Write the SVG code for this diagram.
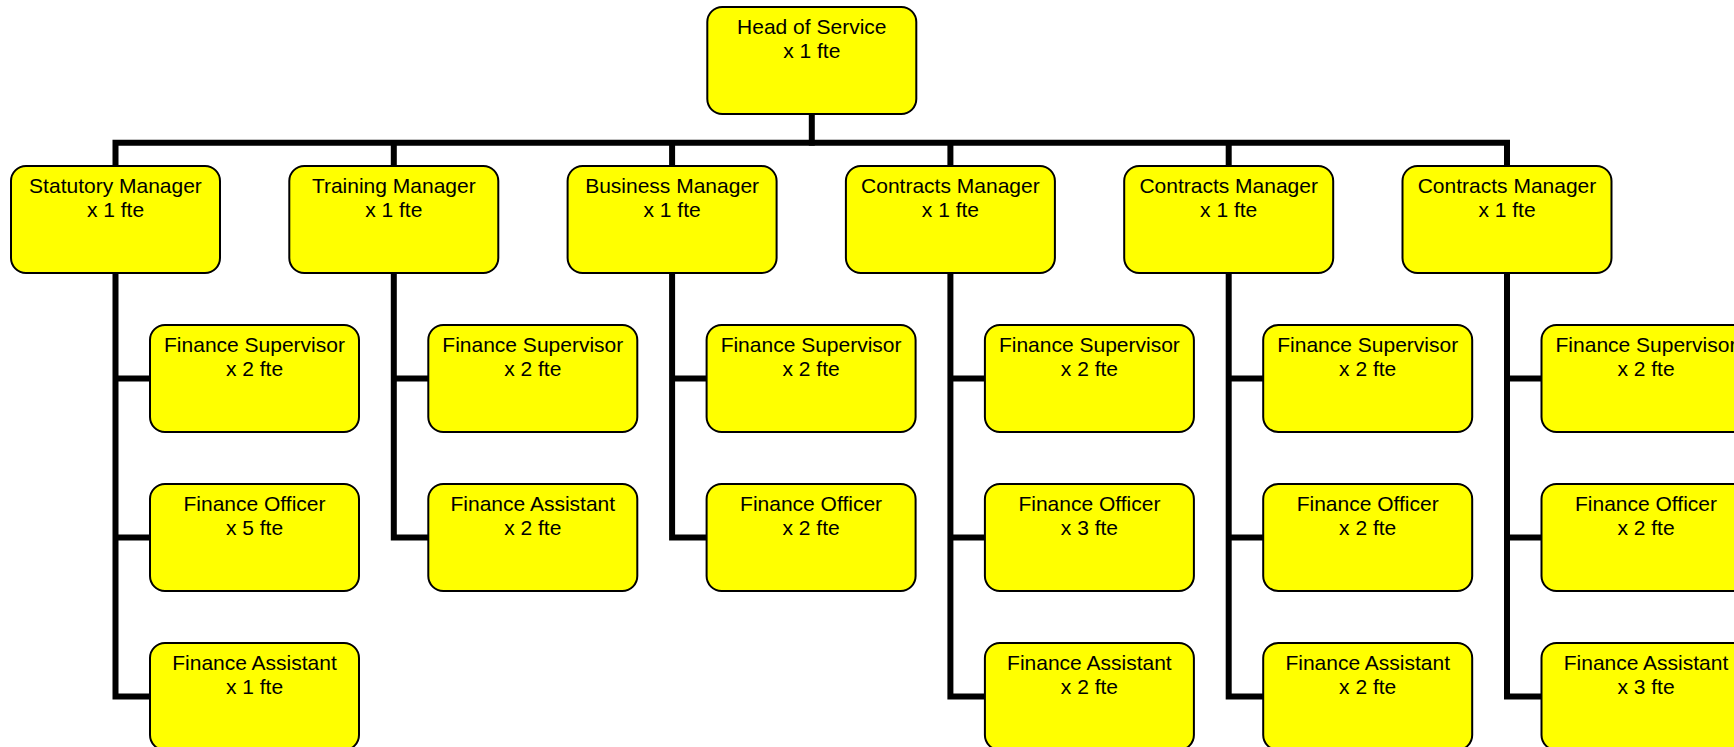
<svg xmlns="http://www.w3.org/2000/svg" width="1734" height="747" viewBox="0 0 1734 747">
<style>
.box{fill:#FFFF00;stroke:#000;stroke-width:2}
.lbl{font-family:"Liberation Sans",Arial,sans-serif;font-size:21px;fill:#000;text-anchor:middle}
.con{fill:none;stroke:#000;stroke-width:6;stroke-linejoin:miter;stroke-linecap:butt}
</style>
<rect width="1734" height="747" fill="#fff"/>
<g id="connectors">
<path class="con" d="M811.8,114 V145.7"/>
<path class="con" d="M115.5,166 V142.7 H1507 V166"/>
<path class="con" d="M393.8,142.7 V166 M672.1,142.7 V166 M950.4,142.7 V166 M1228.7,142.7 V166"/>
<path class="con" d="M115.5,273 V696.5 H150 M115.5,378.5 H150 M115.5,537.5 H150"/>
<path class="con" d="M393.8,273 V537.5 H428.3 M393.8,378.5 H428.3"/>
<path class="con" d="M672.1,273 V537.5 H706.6 M672.1,378.5 H706.6"/>
<path class="con" d="M950.4,273 V696.5 H984.9 M950.4,378.5 H984.9 M950.4,537.5 H984.9"/>
<path class="con" d="M1228.7,273 V696.5 H1263.2 M1228.7,378.5 H1263.2 M1228.7,537.5 H1263.2"/>
<path class="con" d="M1507,273 V696.5 H1541.5 M1507,378.5 H1541.5 M1507,537.5 H1541.5"/>
</g>
<g id="head"><rect class="box" x="707.3" y="7" width="209" height="107" rx="15"/><text class="lbl" x="811.8" y="33.5">Head of Service</text><text class="lbl" x="811.8" y="58">x 1 fte</text></g>

<g id="m0"><rect class="box" x="11" y="166" width="209" height="107" rx="15"/><text class="lbl" x="115.5" y="192.5">Statutory Manager</text><text class="lbl" x="115.5" y="217">x 1 fte</text></g>
<g id="m1"><rect class="box" x="289.3" y="166" width="209" height="107" rx="15"/><text class="lbl" x="393.8" y="192.5">Training Manager</text><text class="lbl" x="393.8" y="217">x 1 fte</text></g>
<g id="m2"><rect class="box" x="567.6" y="166" width="209" height="107" rx="15"/><text class="lbl" x="672.1" y="192.5">Business Manager</text><text class="lbl" x="672.1" y="217">x 1 fte</text></g>
<g id="m3"><rect class="box" x="845.9" y="166" width="209" height="107" rx="15"/><text class="lbl" x="950.4" y="192.5">Contracts Manager</text><text class="lbl" x="950.4" y="217">x 1 fte</text></g>
<g id="m4"><rect class="box" x="1124.2" y="166" width="209" height="107" rx="15"/><text class="lbl" x="1228.7" y="192.5">Contracts Manager</text><text class="lbl" x="1228.7" y="217">x 1 fte</text></g>
<g id="m5"><rect class="box" x="1402.5" y="166" width="209" height="107" rx="15"/><text class="lbl" x="1507" y="192.5">Contracts Manager</text><text class="lbl" x="1507" y="217">x 1 fte</text></g>

<g id="c0a"><rect class="box" x="150" y="325" width="209" height="107" rx="15"/><text class="lbl" x="254.5" y="351.5">Finance Supervisor</text><text class="lbl" x="254.5" y="376">x 2 fte</text></g>
<g id="c0b"><rect class="box" x="150" y="484" width="209" height="107" rx="15"/><text class="lbl" x="254.5" y="510.5">Finance Officer</text><text class="lbl" x="254.5" y="535">x 5 fte</text></g>
<g id="c0c"><rect class="box" x="150" y="643" width="209" height="107" rx="15"/><text class="lbl" x="254.5" y="669.5">Finance Assistant</text><text class="lbl" x="254.5" y="694">x 1 fte</text></g>

<g id="c1a"><rect class="box" x="428.3" y="325" width="209" height="107" rx="15"/><text class="lbl" x="532.8" y="351.5">Finance Supervisor</text><text class="lbl" x="532.8" y="376">x 2 fte</text></g>
<g id="c1b"><rect class="box" x="428.3" y="484" width="209" height="107" rx="15"/><text class="lbl" x="532.8" y="510.5">Finance Assistant</text><text class="lbl" x="532.8" y="535">x 2 fte</text></g>

<g id="c2a"><rect class="box" x="706.6" y="325" width="209" height="107" rx="15"/><text class="lbl" x="811.1" y="351.5">Finance Supervisor</text><text class="lbl" x="811.1" y="376">x 2 fte</text></g>
<g id="c2b"><rect class="box" x="706.6" y="484" width="209" height="107" rx="15"/><text class="lbl" x="811.1" y="510.5">Finance Officer</text><text class="lbl" x="811.1" y="535">x 2 fte</text></g>

<g id="c3a"><rect class="box" x="984.9" y="325" width="209" height="107" rx="15"/><text class="lbl" x="1089.4" y="351.5">Finance Supervisor</text><text class="lbl" x="1089.4" y="376">x 2 fte</text></g>
<g id="c3b"><rect class="box" x="984.9" y="484" width="209" height="107" rx="15"/><text class="lbl" x="1089.4" y="510.5">Finance Officer</text><text class="lbl" x="1089.4" y="535">x 3 fte</text></g>
<g id="c3c"><rect class="box" x="984.9" y="643" width="209" height="107" rx="15"/><text class="lbl" x="1089.4" y="669.5">Finance Assistant</text><text class="lbl" x="1089.4" y="694">x 2 fte</text></g>

<g id="c4a"><rect class="box" x="1263.2" y="325" width="209" height="107" rx="15"/><text class="lbl" x="1367.7" y="351.5">Finance Supervisor</text><text class="lbl" x="1367.7" y="376">x 2 fte</text></g>
<g id="c4b"><rect class="box" x="1263.2" y="484" width="209" height="107" rx="15"/><text class="lbl" x="1367.7" y="510.5">Finance Officer</text><text class="lbl" x="1367.7" y="535">x 2 fte</text></g>
<g id="c4c"><rect class="box" x="1263.2" y="643" width="209" height="107" rx="15"/><text class="lbl" x="1367.7" y="669.5">Finance Assistant</text><text class="lbl" x="1367.7" y="694">x 2 fte</text></g>

<g id="c5a"><rect class="box" x="1541.5" y="325" width="209" height="107" rx="15"/><text class="lbl" x="1646" y="351.5">Finance Supervisor</text><text class="lbl" x="1646" y="376">x 2 fte</text></g>
<g id="c5b"><rect class="box" x="1541.5" y="484" width="209" height="107" rx="15"/><text class="lbl" x="1646" y="510.5">Finance Officer</text><text class="lbl" x="1646" y="535">x 2 fte</text></g>
<g id="c5c"><rect class="box" x="1541.5" y="643" width="209" height="107" rx="15"/><text class="lbl" x="1646" y="669.5">Finance Assistant</text><text class="lbl" x="1646" y="694">x 3 fte</text></g>
</svg>
